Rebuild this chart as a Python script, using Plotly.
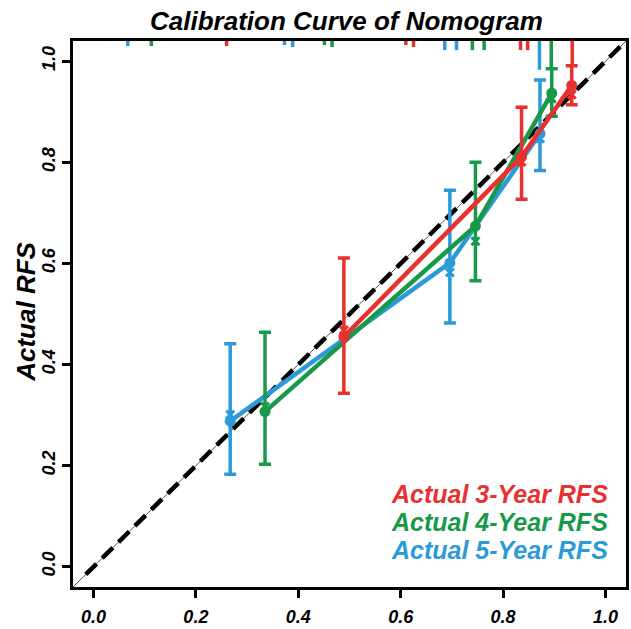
import plotly.graph_objects as go

# ---------------- data ----------------
tick_vals = [0.0, 0.2, 0.4, 0.6, 0.8, 1.0]
tick_labels = ["0.0", "0.2", "0.4", "0.6", "0.8", "1.0"]

series_names = ["Actual 3-Year RFS", "Actual 4-Year RFS", "Actual 5-Year RFS"]

# 3-year
pred_3y = [0.489, 0.836, 0.934]
obs_3y = [0.455, 0.811, 0.952]
low_3y = [0.343, 0.727, 0.914]
up_3y = [0.611, 0.909, 0.991]
corr_3y = [0.468, 0.801, 0.934]

# 4-year
pred_4y = [0.335, 0.746, 0.895]
obs_4y = [0.307, 0.674, 0.937]
low_4y = [0.203, 0.566, 0.891]
up_4y = [0.464, 0.800, 0.985]
corr_4y = [0.317, 0.644, 0.926]

# 5-year
pred_5y = [0.267, 0.696, 0.872]
obs_5y = [0.288, 0.601, 0.857]
low_5y = [0.183, 0.482, 0.784]
up_5y = [0.441, 0.745, 0.963]
corr_5y = [0.301, 0.582, 0.847]

# distribution of predictions (rug at top): positions and relative frequency
rug_x_3y = [0.260, 0.610, 0.625, 0.834, 0.848, 0.935]
rug_f_3y = [0.010, 0.008, 0.012, 0.018, 0.018, 0.050]
rug_x_4y = [0.113, 0.451, 0.466, 0.740, 0.763, 0.894]
rug_f_4y = [0.010, 0.008, 0.012, 0.018, 0.018, 0.053]
rug_x_5y = [0.067, 0.373, 0.389, 0.686, 0.709, 0.871]
rug_f_5y = [0.010, 0.008, 0.012, 0.018, 0.018, 0.057]

# ---------------- styling ----------------
RED = "#E8312F"
GREEN = "#18994A"
BLUE = "#2C9AD7"
FONT = "Liberation Sans"
AX_MIN, AX_MAX = -0.04, 1.04

W, H = 631, 629
ML, MR, MT, MB = 73, 2, 41, 37
PW = W - ML - MR          # plot width
PH = H - MT - MB          # plot height


def px_to_paper_x(px):
    return (px - ML) / PW


def px_to_paper_y(py):
    return (H - MB - py) / PH


fig = go.Figure()

# diagonal reference lines
fig.add_trace(go.Scatter(x=[AX_MIN, AX_MAX], y=[AX_MIN, AX_MAX], mode="lines",
                         line=dict(color="#555555", width=1), showlegend=False, hoverinfo="skip"))
fig.add_trace(go.Scatter(x=[-0.015, 1.03], y=[-0.015, 1.03], mode="lines",
                         line=dict(color="black", width=4.5, dash="15px,8px"),
                         showlegend=False, hoverinfo="skip"))

series = [
    (pred_5y, obs_5y, low_5y, up_5y, corr_5y, rug_x_5y, rug_f_5y, BLUE),
    (pred_4y, obs_4y, low_4y, up_4y, corr_4y, rug_x_4y, rug_f_4y, GREEN),
    (pred_3y, obs_3y, low_3y, up_3y, corr_3y, rug_x_3y, rug_f_3y, RED),
]

for pred, obs, low, up, corr, rx, rf, col in series:
    # rug
    xs, ys = [], []
    for v, f in zip(rx, rf):
        xs += [v, v, None]
        ys += [AX_MAX, AX_MAX - f, None]
    fig.add_trace(go.Scatter(x=xs, y=ys, mode="lines", line=dict(color=col, width=3.5),
                             showlegend=False, hoverinfo="skip"))
    # line + points + error bars
    fig.add_trace(go.Scatter(
        x=pred, y=obs, mode="lines+markers",
        line=dict(color=col, width=4.5),
        marker=dict(color=col, size=11, symbol="circle"),
        error_y=dict(type="data", symmetric=False,
                     array=[u - o for u, o in zip(up, obs)],
                     arrayminus=[o - l for o, l in zip(obs, low)],
                     color=col, thickness=3.5, width=6),
        showlegend=False))
    # bias-corrected estimates
    fig.add_trace(go.Scatter(x=pred, y=corr, mode="markers",
                             marker=dict(color=col, size=8, symbol="x-thin",
                                         line=dict(color=col, width=3)),
                             showlegend=False))

axis_common = dict(
    range=[AX_MIN, AX_MAX], tickvals=tick_vals, ticktext=tick_labels,
    showline=True, linecolor="black", linewidth=3, mirror=True,
    ticks="outside", ticklen=8, tickwidth=3, tickcolor="black",
    showgrid=False, zeroline=False,
    tickfont=dict(family=FONT, size=18, color="black", weight="bold", style="italic"),
)

fig.update_layout(
    width=W, height=H,
    margin=dict(l=ML, r=MR, t=MT, b=MB, pad=0),
    plot_bgcolor="white", paper_bgcolor="white",
    xaxis=dict(**axis_common, ticklabelstandoff=3),
    yaxis=dict(**axis_common, tickangle=-90, ticklabelstandoff=0),
    showlegend=False,
)

# title
fig.add_annotation(text="Calibration Curve of Nomogram", xref="paper", yref="paper",
                   x=px_to_paper_x(348), y=px_to_paper_y(21), xanchor="center", yanchor="middle",
                   showarrow=False,
                   font=dict(family=FONT, size=26, color="black", weight="bold", style="italic"))
# y-axis title
fig.add_annotation(text="Actual RFS", xref="paper", yref="paper",
                   x=px_to_paper_x(25), y=px_to_paper_y(314), xanchor="center", yanchor="middle",
                   showarrow=False, textangle=-90,
                   font=dict(family=FONT, size=26, color="black", weight="bold", style="italic"))
# colored legend text
for i, (name, col) in enumerate(zip(series_names, [RED, GREEN, BLUE])):
    fig.add_annotation(text=name, xref="paper", yref="paper",
                       x=px_to_paper_x(613), y=px_to_paper_y(498 + 28.5 * i),
                       xanchor="right", yanchor="middle", showarrow=False,
                       font=dict(family=FONT, size=25, color=col, weight="bold", style="italic"))

fig.write_html("out.html", config={"displayModeBar": False},
               post_script="document.body.style.margin='0';document.body.style.overflow='hidden';")
